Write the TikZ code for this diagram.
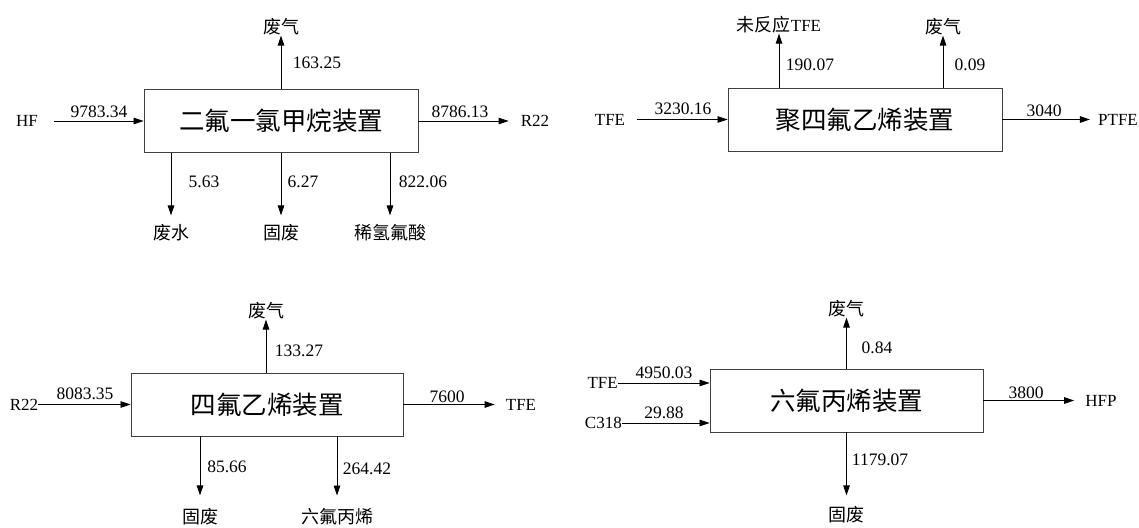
\documentclass[tikz,border=0pt]{standalone}
\usepackage{fontspec}
\setmainfont{Liberation Serif}
\newfontfamily\cjk{Noto Sans CJK SC}
\usetikzlibrary{arrows.meta}

\begin{document}
\begin{tikzpicture}[x=1pt, y=-1pt,
  unit/.style={draw=black!75, line width=0.9pt, minimum width=274pt, minimum height=63pt, inner sep=0pt, font=\cjk\fontsize{25.5}{30}\selectfont},
  lbl/.style={inner sep=0pt, font=\fontsize{17}{20}\selectfont},
  zh/.style={inner sep=0pt, font=\cjk\fontsize{18}{21}\selectfont},
  val/.style={inner sep=0pt, font=\fontsize{17.5}{20}\selectfont},
  flowarr/.style={-{Triangle[length=10pt,width=6.5pt]}, line width=0.8pt}]
  \useasboundingbox (0,0) rectangle (1139,527);

  % R22 unit
  \node[unit] (b1) at (281,121) {二氟一氯甲烷装置};
  \node[lbl] (b1hf) at (27,121) {HF};
  \node[lbl] (b1r22) at (535,121) {R22};
  \node[zh] (b1gas) at (281,27) {废气};
  \node[zh] (b1water) at (171,233) {废水};
  \node[zh] (b1solid) at (281,233) {固废};
  \node[zh] (b1acid) at (390,233) {稀氢氟酸};
  \draw[flowarr, shorten <=16pt] (b1hf) -- (b1);
  \draw[flowarr, shorten >=12pt] (b1) -- (b1r22);
  \draw[flowarr] (b1.north) -- (b1gas);
  \draw[flowarr, shorten >=9pt] (b1.south -| b1water) -- (b1water);
  \draw[flowarr, shorten >=9pt] (b1.south -| b1solid) -- (b1solid);
  \draw[flowarr, shorten >=9pt] (b1.south -| b1acid) -- (b1acid);
  \node[val] (v1in) at (99,112) {9783.34};
  \node[val] (v1out) at (460,112) {8786.13};
  \node[val] (v1gas) at (317,63) {163.25};
  \node[val] (v1water) at (204,182) {5.63};
  \node[val] (v1solid) at (303,182) {6.27};
  \node[val] (v1acid) at (423,182) {822.06};

  % PTFE unit
  \node[unit] (b2) at (865,119.5) {聚四氟乙烯装置};
  \node[lbl] (b2tfe) at (610,119.5) {TFE};
  \node[lbl] (b2ptfe) at (1118,119.5) {PTFE};
  \node[lbl] (b2rest) at (779,25) {{\cjk\fontsize{18}{21}\selectfont 未反应}TFE};
  \node[zh] (b2gas) at (943,27) {废气};
  \draw[flowarr, shorten <=12pt] (b2tfe) -- (b2);
  \draw[flowarr, shorten >=8pt] (b2) -- (b2ptfe);
  \draw[flowarr] (b2.north -| b2rest) -- (b2rest);
  \draw[flowarr] (b2.north -| b2gas) -- (b2gas);
  \node[val] (v2in) at (683,109) {3230.16};
  \node[val] (v2out) at (1044,111) {3040};
  \node[val] (v2rest) at (810,65) {190.07};
  \node[val] (v2gas) at (970,65) {0.09};

  % TFE unit
  \node[unit, minimum width=272pt] (b3) at (267,404.5) {四氟乙烯装置};
  \node[lbl] (b3r22) at (24,404.5) {R22};
  \node[lbl] (b3tfe) at (521,404.5) {TFE};
  \node[zh] (b3gas) at (266,311) {废气};
  \node[zh] (b3solid) at (200,517) {固废};
  \node[zh] (b3hfp) at (337,517) {六氟丙烯};
  \draw[flowarr] (b3r22) -- (b3);
  \draw[flowarr, shorten >=11pt] (b3) -- (b3tfe);
  \draw[flowarr] (b3.north -| b3gas) -- (b3gas);
  \draw[flowarr, shorten >=13pt] (b3.south -| b3solid) -- (b3solid);
  \draw[flowarr, shorten >=13pt] (b3.south -| b3hfp) -- (b3hfp);
  \node[val] (v3in) at (85,394) {8083.35};
  \node[val] (v3out) at (447,397) {7600};
  \node[val] (v3gas) at (299,351) {133.27};
  \node[val] (v3solid) at (227,467) {85.66};
  \node[val] (v3hfp) at (367,469) {264.42};

  % HFP unit
  \node[unit, minimum width=273pt] (b4) at (846.5,400.5) {六氟丙烯装置};
  \node[lbl, anchor=east] (b4tfe) at (618,383) {TFE};
  \node[lbl, anchor=east] (b4c318) at (622,423) {C318};
  \node[lbl] (b4hfp) at (1101,400.5) {HFP};
  \node[zh] (b4gas) at (846.5,309) {废气};
  \node[zh] (b4solid) at (846.5,515) {固废};
  \draw[flowarr] (b4tfe) -- (b4tfe -| b4.west);
  \draw[flowarr] (b4c318) -- (b4c318 -| b4.west);
  \draw[flowarr, shorten >=11pt] (b4) -- (b4hfp);
  \draw[flowarr] (b4.north) -- (b4gas);
  \draw[flowarr, shorten >=11pt] (b4.south) -- (b4solid);
  \node[val] (v4tfe) at (664,373) {4950.03};
  \node[val] (v4c318) at (664,413) {29.88};
  \node[val] (v4out) at (1026,393) {3800};
  \node[val] (v4gas) at (877,348) {0.84};
  \node[val] (v4solid) at (880,460) {1179.07};
\end{tikzpicture}
\end{document}
